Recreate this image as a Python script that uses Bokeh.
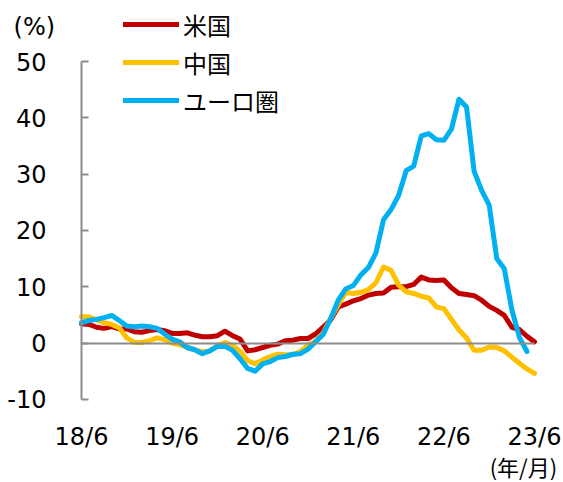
from bokeh.plotting import figure
from bokeh.models import Legend, LegendItem, Label, FixedTicker
from bokeh.embed import file_html
from bokeh.resources import INLINE
import pandas as pd

# Monthly, 2018/6 - 2023/6 (year-on-year, %)
months = [str(m) for m in pd.period_range("2018-06", "2023-06", freq="M")]

us = [3.4, 3.3, 2.8, 2.6, 2.9, 2.5, 2.5,
      2.0, 1.9, 2.2, 2.4, 2.2, 1.7, 1.7, 1.8, 1.4, 1.1, 1.1, 1.3,
      2.1, 1.3, 0.7, -1.4, -1.2, -0.8, -0.4, -0.2, 0.4, 0.5, 0.8, 0.8,
      1.6, 2.8, 4.1, 6.4, 6.9, 7.5, 7.9, 8.5, 8.8, 8.9, 9.9, 10.0,
      10.0, 10.4, 11.7, 11.2, 11.1, 11.2, 9.8, 8.8, 8.6, 8.4, 7.6, 6.5,
      5.8, 4.9, 2.8, 2.4, 1.2, 0.2]

cn = [4.7, 4.6, 4.1, 3.6, 3.3, 2.7, 0.9,
      0.1, 0.1, 0.4, 0.9, 0.6, 0.0, -0.3, -0.8, -1.2, -1.6, -1.4, -0.5,
      0.1, -0.4, -1.5, -3.1, -3.7, -3.0, -2.4, -2.0, -2.1, -2.1, -1.5, -0.4,
      0.3, 1.7, 4.4, 6.8, 9.0, 8.8, 9.0, 9.5, 10.7, 13.5, 12.9, 10.3,
      9.1, 8.8, 8.3, 8.0, 6.4, 6.1, 4.2, 2.3, 0.9, -1.3, -1.3, -0.7,
      -0.8, -1.4, -2.5, -3.6, -4.6, -5.4]

ea = [3.6, 4.0, 4.2, 4.5, 4.9, 4.0, 3.0,
      2.9, 3.0, 2.9, 2.6, 1.6, 0.7, 0.2, -0.8, -1.2, -1.9, -1.4, -0.6,
      -0.6, -1.3, -2.8, -4.5, -5.0, -3.7, -3.3, -2.6, -2.4, -2.0, -1.9, -1.1,
      0.2, 1.5, 4.3, 7.6, 9.6, 10.2, 12.1, 13.4, 16.0, 21.9, 23.7, 26.2,
      30.6, 31.4, 36.8, 37.2, 36.1, 36.0, 38.0, 43.3, 41.9, 30.5, 27.1, 24.5,
      15.0, 13.2, 5.9, 1.0, -1.5]

series_names = ["米国", "中国", "ユーロ圏"]
series_colors = ["#C00000", "#FFC000", "#00B0F0"]

tick_labels = ["18/6", "19/6", "20/6", "21/6", "22/6", "23/6"]
tick_pos = [0, 12, 24, 36, 48, 60]
y_ticks = [-10, 0, 10, 20, 30, 40, 50]
y_labels = ["-10", "0", "10", "20", "30", "40", "50"]

W, H = 563, 482
px_per_month = 7.55
px_per_pct = 5.63
x0_px, y0_px = 81, 342.5   # where month 0 / 0% fall on the canvas

p = figure(width=W, height=H,
           x_range=(-x0_px / px_per_month, (W - x0_px) / px_per_month),
           y_range=((y0_px - H) / px_per_pct, y0_px / px_per_pct),
           output_backend="svg", toolbar_location=None,
           min_border=0)
p.outline_line_color = None
p.grid.visible = False
p.background_fill_color = "white"
p.border_fill_color = "white"

# y axis (drawn at month 0, spans -10..50)
p.yaxis.fixed_location = 0
p.yaxis.bounds = (-10, 50)
p.yaxis.ticker = FixedTicker(ticks=y_ticks)
p.yaxis.major_label_overrides = {t: l for t, l in zip(y_ticks, y_labels)}
p.yaxis.axis_line_color = "#8c8c8c"
p.yaxis.axis_line_width = 2
p.yaxis.major_tick_line_color = "#8c8c8c"
p.yaxis.major_tick_line_width = 2
p.yaxis.major_tick_in = 7
p.yaxis.major_tick_out = 0
p.yaxis.minor_tick_line_color = None
p.yaxis.major_label_standoff = 35
p.yaxis.major_label_text_font = "DejaVu Sans"
p.yaxis.major_label_text_font_size = "24px"
p.yaxis.major_label_text_color = "black"

# x axis crosses at 0 (zero line), labels placed low
p.xaxis.fixed_location = 0
p.xaxis.bounds = (0, 60)
p.xaxis.ticker = FixedTicker(ticks=tick_pos)
p.xaxis.major_label_overrides = {t: l for t, l in zip(tick_pos, tick_labels)}
p.xaxis.axis_line_color = "#8c8c8c"
p.xaxis.axis_line_width = 2
p.xaxis.major_tick_line_color = None
p.xaxis.minor_tick_line_color = None
p.xaxis.major_label_standoff = 74
p.xaxis.major_label_text_font = "DejaVu Sans"
p.xaxis.major_label_text_font_size = "24px"
p.xaxis.major_label_text_color = "black"

items = []
for name, col, vals in zip(series_names, series_colors, [us, cn, ea]):
    r = p.line(list(range(len(vals))), vals, line_color=col, line_width=5,
               line_join="round", line_cap="round")
    items.append(LegendItem(label=name, renderers=[r]))

legend = Legend(items=items, location=(123, 364), glyph_width=56, glyph_height=36,
                label_height=36, spacing=2, padding=0, margin=0,
                border_line_color=None, background_fill_alpha=0,
                label_text_font="Noto Sans CJK JP", label_text_font_size="24px",
                label_text_color="black", label_standoff=4)
p.add_layout(legend)

p.add_layout(Label(x=-9.0, y=56.2, text="(%)",
                   text_baseline="middle", text_font="DejaVu Sans",
                   text_font_size="24px", text_color="black"))
p.add_layout(Label(x=63.0, y=-21.8, text="(年/月)",
                   text_baseline="middle", text_align="right",
                   text_font="Noto Sans CJK JP", text_font_size="22px",
                   text_color="black"))

open("out.html", "w").write(file_html(p, INLINE))
